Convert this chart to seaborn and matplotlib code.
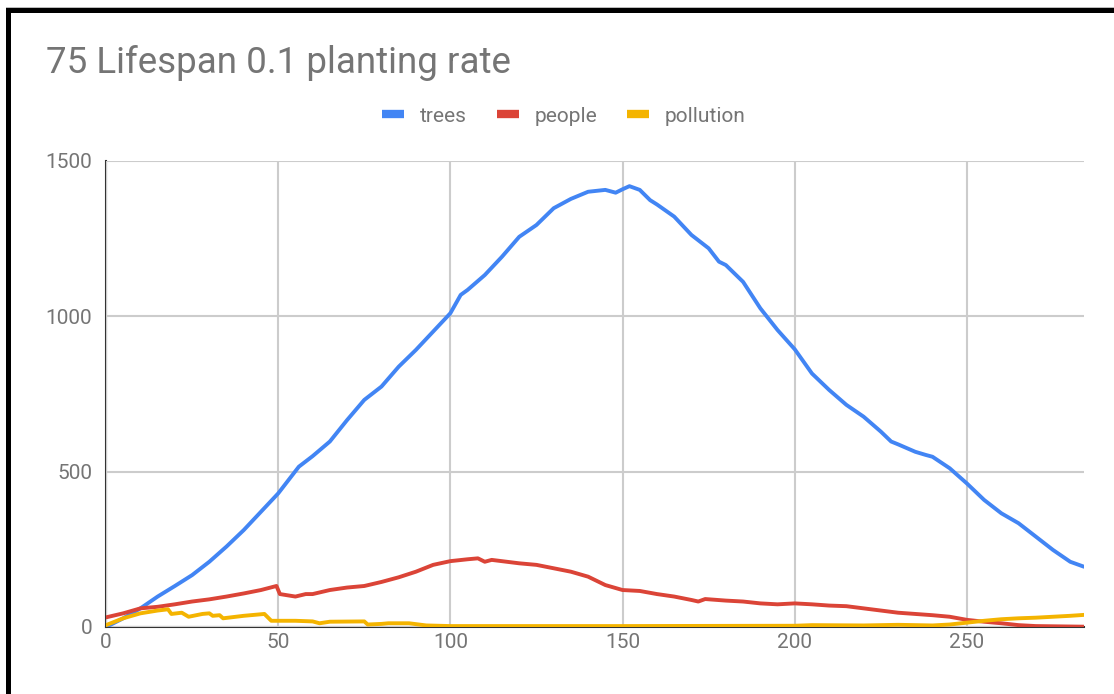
import pandas as pd
import matplotlib
matplotlib.use("Agg")
import matplotlib.pyplot as plt
from matplotlib.lines import Line2D
from matplotlib.patches import Rectangle
import seaborn as sns

# values
trees_x = [0, 5, 10, 15, 20, 25, 30, 35, 40, 45, 50, 53, 56, 60, 65, 70, 75, 80, 85, 90,
           95, 100, 103, 105, 110, 115, 120, 125, 130, 135, 140, 145, 148, 150, 152, 155,
           158, 160, 165, 170, 175, 178, 180, 185, 190, 195, 200, 205, 210, 215, 220, 225,
           228, 230, 235, 238, 240, 245, 250, 255, 260, 265, 270, 275, 280, 284]
trees = [0, 28, 60, 98, 132, 167, 210, 259, 312, 371, 430, 473, 516, 550, 597, 666, 731, 774,
         838, 892, 951, 1010, 1069, 1085, 1133, 1192, 1256, 1294, 1348, 1378, 1401, 1407, 1398,
         1409, 1419, 1407, 1374, 1360, 1321, 1262, 1219, 1176, 1165, 1111, 1026, 956, 894, 816,
         763, 715, 677, 629, 597, 588, 564, 554, 548, 511, 462, 409, 366, 334, 291, 248, 210, 194]

people_x = [0, 5, 10, 15, 20, 25, 30, 35, 40, 45, 49.5, 50.5, 55, 58, 60, 65, 70, 75, 80, 85,
            90, 95, 100, 105, 108, 110, 112, 120, 125, 130, 135, 140, 145, 150, 155, 160, 165,
            170, 172, 174, 180, 185, 190, 195, 200, 205, 210, 215, 220, 225, 230, 235, 240, 245,
            250, 255, 260, 265, 270, 284]
people = [31, 44, 60, 65, 73, 82, 89, 98, 108, 119, 132, 106, 98, 106, 106, 119, 127, 132, 145,
          160, 178, 200, 212, 218, 221, 210, 216, 205, 200, 189, 178, 162, 135, 119, 116, 106, 98,
          87, 82, 90, 85, 82, 76, 73, 76, 73, 69, 67, 60, 53, 46, 42, 38, 33, 23, 17, 12, 6, 3, 1]

pollution_x = [0, 5, 10, 15, 18, 19, 22, 24, 28, 30, 31, 33, 34, 40, 46, 48, 55, 60, 62, 65, 75,
               76, 80, 82, 88, 93, 100, 150, 200, 205, 220, 230, 240, 245, 250, 255, 260, 265,
               270, 275, 280, 284]
pollution = [6, 28, 44, 53, 57, 42, 46, 33, 42, 44, 36, 38, 28, 36, 42, 20, 20, 18, 12, 17, 18,
             8, 10, 12, 12, 5, 3, 3, 4, 6, 5, 7, 5, 8, 14, 20, 25, 28, 30, 33, 36, 39]

series = ["trees", "people", "pollution"]
colors = ["#4285F4", "#DB4437", "#F4B400"]

df = pd.concat([
    pd.DataFrame({"step": trees_x, "value": trees, "series": "trees"}),
    pd.DataFrame({"step": people_x, "value": people, "series": "people"}),
    pd.DataFrame({"step": pollution_x, "value": pollution, "series": "pollution"}),
])

sns.set_theme(style="whitegrid")
plt.rcParams["font.family"] = ["Roboto", "DejaVu Sans"]
grey = "#757575"

fig = plt.figure(figsize=(11.14, 6.94), dpi=100)
ax = fig.add_axes([106 / 1114, 1 - 627 / 694, (1084 - 106) / 1114, (627 - 161) / 694])

sns.lineplot(data=df, x="step", y="value", hue="series", hue_order=series,
             palette=colors, linewidth=2.8, legend=False, ax=ax, sort=False)

ax.set_xlim(0, 284)
ax.set_ylim(0, 1500)
ax.set_xticks([0, 50, 100, 150, 200, 250])
ax.set_yticks([0, 500, 1000, 1500])
ax.set_xlabel("")
ax.set_ylabel("")
ax.grid(True, color="#cccccc", linewidth=1.5)
ax.set_facecolor("white")
for s in ["top", "right"]:
    ax.spines[s].set_visible(False)
for s in ["left", "bottom"]:
    ax.spines[s].set_visible(True)
    ax.spines[s].set_color("#333333")
    ax.spines[s].set_linewidth(1.5)
    ax.spines[s].set_zorder(0.5)
ax.tick_params(axis="both", colors=grey, labelsize=15, length=0)
ax.tick_params(axis="y", pad=10)
ax.tick_params(axis="x", pad=4)

fig.text(46 / 1114, 1 - 63 / 694, "75 Lifespan 0.1 planting rate", fontsize=26.5,
         color=grey, ha="left", va="center")

handles = [Line2D([0], [0], color=c, linewidth=6, solid_capstyle="butt") for c in colors]
fig.legend(handles, series, loc="center", bbox_to_anchor=(564 / 1114, 1 - 116 / 694),
           ncol=3, frameon=False, fontsize=15, labelcolor=grey, handlelength=1.05,
           handletextpad=0.75, columnspacing=1.45)

# black screenshot frame along the top and left edges
fig.add_artist(Rectangle((6 / 1114, 1 - 8 / 694), 1, 1 / 694, transform=fig.transFigure,
                         color="#bbbbbb", lw=0))
fig.add_artist(Rectangle((6 / 1114, 1 - 13 / 694), 1, 5 / 694, transform=fig.transFigure,
                         color="black", lw=0))
fig.add_artist(Rectangle((6 / 1114, 0), 5 / 1114, 1 - 8 / 694, transform=fig.transFigure,
                         color="black", lw=0))

fig.savefig("out.png", dpi=100, facecolor="white")
